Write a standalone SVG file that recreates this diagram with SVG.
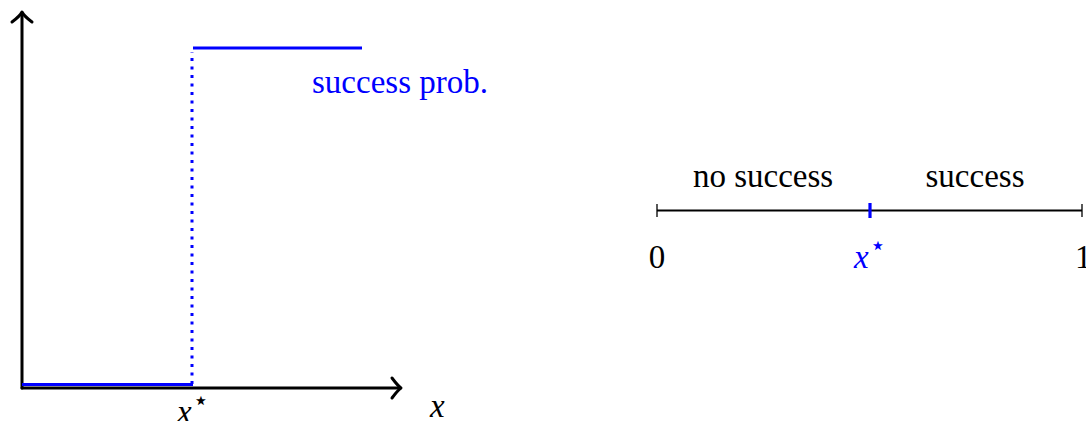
<svg xmlns="http://www.w3.org/2000/svg" width="1086" height="421" viewBox="0 0 1086 421" font-family="'Liberation Serif','DejaVu Serif','Times New Roman',serif">
<style>
text{font-family:"Liberation Serif","DejaVu Serif","Times New Roman",serif;font-size:33px;fill:#000}
.blue{fill:#0000ff}
.it{font-style:italic}
.st{font-style:normal;font-size:26px;font-family:"DejaVu Sans",sans-serif}
.ax{stroke:#000;stroke-width:3;fill:none;stroke-linecap:round;stroke-linejoin:round}
.bl{stroke:#0000ff;stroke-width:3;fill:none}
</style>
<rect width="1086" height="421" fill="#fff"/>
<g id="connectors">
  <path class="ax" d="M22,388 V14"/>
  <path class="ax" d="M12,22 C16,19 20,16 22,12 C24,16 28,19 32,22"/>
  <path class="ax" d="M22,388 H400"/>
  <path class="ax" d="M392,378 C395,382 398,386 401,388 C398,390 395,394 392,398"/>
  <path class="bl" d="M22,384.5 H193"/>
  <path class="bl" d="M192,384 V52" stroke-dasharray="3 5.5"/>
  <path class="bl" d="M193,48 H362"/>
  <path d="M657,210.5 H1082" stroke="#000" stroke-width="2" fill="none"/>
  <path d="M657,204 V217 M1082,204 V217" stroke="#000" stroke-width="1.3" fill="none"/>
  <path d="M870,203 V218" stroke="#0000ff" stroke-width="3.2" fill="none"/>
</g>
<g id="label-success-prob"><text class="blue" x="312" y="93">success prob.</text></g>
<g id="label-xstar-left"><text class="it" x="177" y="423">x<tspan class="st" dx="1" dy="-14">⋆</tspan></text></g>
<g id="label-x"><text class="it" x="430" y="417">x</text></g>
<g id="label-no-success"><text x="763" y="187" text-anchor="middle">no success</text></g>
<g id="label-success"><text x="975" y="187" text-anchor="middle">success</text></g>
<g id="label-0"><text x="657" y="268" text-anchor="middle">0</text></g>
<g id="label-xstar-right"><text class="it blue" x="854" y="268">x<tspan class="st" dx="1" dy="-14">⋆</tspan></text></g>
<g id="label-1"><text x="1075" y="268">1</text></g>
</svg>
